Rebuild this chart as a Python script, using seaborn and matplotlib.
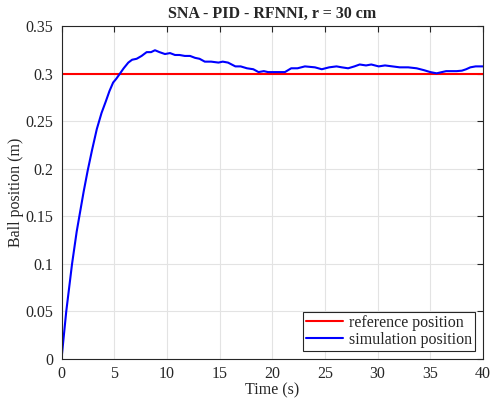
import numpy as np
import pandas as pd
import matplotlib
matplotlib.use("Agg")
import matplotlib.pyplot as plt
import seaborn as sns

# data
time_s = [0.0, 0.45, 1.0, 1.44, 1.69, 2.1, 2.48, 2.9, 3.35, 3.8, 4.2, 4.55, 4.9,
          5.2, 5.52, 5.9, 6.34, 6.7, 7.13, 7.6, 8.08, 8.5, 8.87, 9.3,
          9.82, 10.3, 10.77, 11.2, 11.7, 12.2, 12.67, 13.1, 13.6, 14.2, 14.9, 15.3,
          15.8, 16.5, 17.0, 17.6, 18.2, 18.7, 19.2, 19.6, 20.3, 21.2, 21.8, 22.4,
          23.1, 24.05, 24.7, 25.4, 26.1, 26.6, 27.2, 27.8, 28.3, 28.9, 29.4, 30.1,
          30.7, 31.4, 32.1, 32.9, 33.7, 34.4, 35.0, 35.6, 36.1, 36.5, 37.0, 37.5,
          38.0, 38.4, 38.8, 39.3, 40.0]
position_m = [0.0, 0.05, 0.1, 0.134, 0.15, 0.176, 0.198, 0.22, 0.242, 0.259, 0.271, 0.282, 0.291,
              0.295, 0.300, 0.306, 0.312, 0.315, 0.316, 0.319, 0.323, 0.323, 0.325, 0.323,
              0.321, 0.322, 0.320, 0.320, 0.319, 0.319, 0.317, 0.316, 0.313, 0.313, 0.312, 0.313,
              0.312, 0.308, 0.308, 0.306, 0.305, 0.302, 0.303, 0.302, 0.302, 0.302, 0.306, 0.306,
              0.308, 0.307, 0.305, 0.307, 0.308, 0.307, 0.306, 0.308, 0.310, 0.309, 0.310, 0.308,
              0.309, 0.308, 0.307, 0.307, 0.306, 0.304, 0.302, 0.3007, 0.302, 0.303, 0.303, 0.303,
              0.3035, 0.305, 0.307, 0.308, 0.308]
reference_value = 0.30
x_ticks = [0, 5, 10, 15, 20, 25, 30, 35, 40]
y_ticks = [0, 0.05, 0.1, 0.15, 0.2, 0.25, 0.3, 0.35]

sns.set_style("white")
plt.rcParams['font.family'] = ['Liberation Serif', 'DejaVu Serif']

fig = plt.figure(figsize=(4.92, 4.05), dpi=100)
ax = fig.add_axes([0.125, 0.1136, 0.8567, 0.8210])

df_ref = pd.DataFrame({"t": [0, 40], "y": [reference_value, reference_value]})
df_sim = pd.DataFrame({"t": time_s, "y": position_m})
sns.lineplot(data=df_ref, x="t", y="y", ax=ax, color="#ff0000", linewidth=1.5,
             label="reference position")
sns.lineplot(data=df_sim, x="t", y="y", ax=ax, color="#0000ff", linewidth=1.5,
             label="simulation position")

ax.set_xlim(0, 40)
ax.set_ylim(0, 0.35)
ax.set_xticks(x_ticks)
ax.set_yticks(y_ticks)
ax.set_xticklabels([f"{v:g}" for v in x_ticks])
ax.set_yticklabels([f"{v:g}" for v in y_ticks])
ax.grid(True, color="#e3e3e3", linewidth=0.8)
ax.set_axisbelow(True)
for s in ax.spines.values():
    s.set_visible(True)
    s.set_color("#262626")
    s.set_linewidth(0.8)
ax.tick_params(direction="in", length=4.5, width=0.8, color="#262626",
               top=True, right=True, labelsize=11.5, labelcolor="#262626")
ax.tick_params(axis="x", pad=5)
ax.tick_params(axis="y", pad=6)
ax.set_xlabel("Time (s)", fontsize=11.5, color="#262626", labelpad=0)
ax.set_ylabel("Ball position (m)", fontsize=11.5, color="#262626", labelpad=1)
ax.set_title("SNA - PID - RFNNI, r = 30 cm", fontsize=11.5, fontweight="bold", pad=6)

leg = ax.legend(loc="lower right", fontsize=11.5, frameon=True, fancybox=False,
                edgecolor="#262626", framealpha=1, borderpad=0.2, handlelength=2.3,
                handletextpad=0.35, labelspacing=0.05, borderaxespad=0.5)
leg.get_frame().set_linewidth(0.8)

fig.savefig("out.png", dpi=100)
